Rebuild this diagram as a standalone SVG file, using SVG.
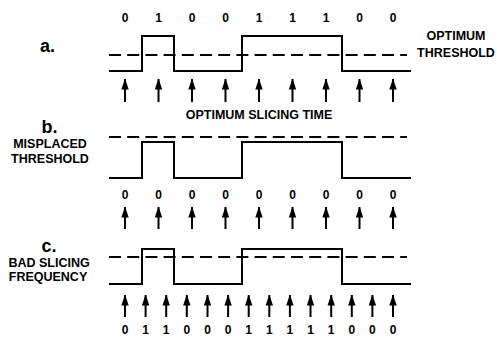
<svg xmlns="http://www.w3.org/2000/svg" width="497" height="340" viewBox="0 0 497 340">
<defs>
<marker id="ah" markerUnits="userSpaceOnUse" markerWidth="11" markerHeight="8" viewBox="0 0 11 8" refX="10.5" refY="4" orient="auto">
<path d="M11,4 L0,0.3 L0,7.7 Z" fill="#000"/>
</marker>
</defs>
<style>
text{font-family:"Liberation Sans",Arial,sans-serif;font-weight:bold;fill:#000;text-anchor:middle}
.d{font-size:12px}
.t{font-size:12.5px}
.h{font-size:18px}
.w{fill:none;stroke:#000;stroke-width:2}
.th{fill:none;stroke:#000;stroke-width:1.8;stroke-dasharray:12 6.2}
.ar{stroke:#000;stroke-width:2;marker-end:url(#ah)}
</style>
<rect width="497" height="340" fill="#fff"/>

<g id="panel-a">
<text class="h" x="47.5" y="52">a.</text>
<text class="t" x="456" y="40">OPTIMUM</text>
<text class="t" x="456" y="57">THRESHOLD</text>
<text class="t" x="259" y="119">OPTIMUM SLICING TIME</text>
<text class="d" x="125" y="22">0</text>
<text class="d" x="158.5" y="22">1</text>
<text class="d" x="192" y="22">0</text>
<text class="d" x="225.5" y="22">0</text>
<text class="d" x="259" y="22">1</text>
<text class="d" x="292.5" y="22">1</text>
<text class="d" x="326" y="22">1</text>
<text class="d" x="359.5" y="22">0</text>
<text class="d" x="393" y="22">0</text>
<line class="th" x1="109" y1="55" x2="407" y2="55"/>
<path class="w" d="M109,71 H142 V36 H174 V71 H242 V36 H342 V71 H411"/>
</g>

<g id="panel-b">
<text class="h" x="49.5" y="133">b.</text>
<text class="t" x="50" y="148">MISPLACED</text>
<text class="t" x="50" y="163">THRESHOLD</text>
<text class="d" x="125" y="199">0</text>
<text class="d" x="158.5" y="199">0</text>
<text class="d" x="192" y="199">0</text>
<text class="d" x="225.5" y="199">0</text>
<text class="d" x="259" y="199">0</text>
<text class="d" x="292.5" y="199">0</text>
<text class="d" x="326" y="199">0</text>
<text class="d" x="359.5" y="199">0</text>
<text class="d" x="393" y="199">0</text>
<line class="th" x1="109" y1="137" x2="407" y2="137"/>
<path class="w" d="M109,178 H142 V142 H174 V178 H242 V142 H342 V178 H411"/>
</g>

<g id="panel-c">
<text class="h" x="49" y="252">c.</text>
<text class="t" x="49" y="267">BAD SLICING</text>
<text class="t" x="48" y="281">FREQUENCY</text>
<text class="d" x="125" y="334">0</text>
<text class="d" x="145.6" y="334">1</text>
<text class="d" x="166.2" y="334">1</text>
<text class="d" x="186.8" y="334">0</text>
<text class="d" x="207.5" y="334">0</text>
<text class="d" x="228.1" y="334">0</text>
<text class="d" x="248.7" y="334">1</text>
<text class="d" x="269.3" y="334">1</text>
<text class="d" x="289.9" y="334">1</text>
<text class="d" x="310.5" y="334">1</text>
<text class="d" x="331.2" y="334">1</text>
<text class="d" x="351.8" y="334">0</text>
<text class="d" x="372.4" y="334">0</text>
<text class="d" x="393" y="334">0</text>
<line class="th" x1="109" y1="257" x2="407" y2="257"/>
<path class="w" d="M109,284 H142 V249 H174 V284 H242 V249 H342 V284 H411"/>
</g>

<g id="connectors">
<line class="ar" x1="125" y1="102" x2="125" y2="79"/>
<line class="ar" x1="158.5" y1="102" x2="158.5" y2="79"/>
<line class="ar" x1="192" y1="102" x2="192" y2="79"/>
<line class="ar" x1="225.5" y1="102" x2="225.5" y2="79"/>
<line class="ar" x1="259" y1="102" x2="259" y2="79"/>
<line class="ar" x1="292.5" y1="102" x2="292.5" y2="79"/>
<line class="ar" x1="326" y1="102" x2="326" y2="79"/>
<line class="ar" x1="359.5" y1="102" x2="359.5" y2="79"/>
<line class="ar" x1="393" y1="102" x2="393" y2="79"/>

<line class="ar" x1="125" y1="229" x2="125" y2="207"/>
<line class="ar" x1="158.5" y1="229" x2="158.5" y2="207"/>
<line class="ar" x1="192" y1="229" x2="192" y2="207"/>
<line class="ar" x1="225.5" y1="229" x2="225.5" y2="207"/>
<line class="ar" x1="259" y1="229" x2="259" y2="207"/>
<line class="ar" x1="292.5" y1="229" x2="292.5" y2="207"/>
<line class="ar" x1="326" y1="229" x2="326" y2="207"/>
<line class="ar" x1="359.5" y1="229" x2="359.5" y2="207"/>
<line class="ar" x1="393" y1="229" x2="393" y2="207"/>

<line class="ar" x1="125" y1="317" x2="125" y2="295"/>
<line class="ar" x1="145.6" y1="317" x2="145.6" y2="295"/>
<line class="ar" x1="166.2" y1="317" x2="166.2" y2="295"/>
<line class="ar" x1="186.8" y1="317" x2="186.8" y2="295"/>
<line class="ar" x1="207.5" y1="317" x2="207.5" y2="295"/>
<line class="ar" x1="228.1" y1="317" x2="228.1" y2="295"/>
<line class="ar" x1="248.7" y1="317" x2="248.7" y2="295"/>
<line class="ar" x1="269.3" y1="317" x2="269.3" y2="295"/>
<line class="ar" x1="289.9" y1="317" x2="289.9" y2="295"/>
<line class="ar" x1="310.5" y1="317" x2="310.5" y2="295"/>
<line class="ar" x1="331.2" y1="317" x2="331.2" y2="295"/>
<line class="ar" x1="351.8" y1="317" x2="351.8" y2="295"/>
<line class="ar" x1="372.4" y1="317" x2="372.4" y2="295"/>
<line class="ar" x1="393" y1="317" x2="393" y2="295"/>
</g>
</svg>
